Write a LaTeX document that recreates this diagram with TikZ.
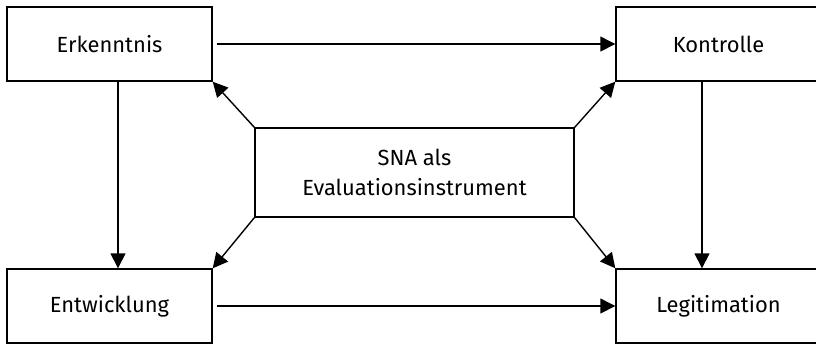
\documentclass[tikz,border=0pt]{standalone}
\usepackage{fontspec}
\setmainfont{Fira Sans}
\usetikzlibrary{arrows.meta}
\begin{document}
\begin{tikzpicture}[x=0.5bp,y=-0.5bp]
	\tikzset{aspect/.style={draw, line width=0.7pt, rectangle, inner sep=0pt,
		minimum width=102.5bp, minimum height=37bp, font=\fontsize{11}{15}\selectfont}}
	\tikzset{centre/.style={aspect, minimum width=159.5bp, minimum height=44.5bp, align=center}}
	\tikzset{link/.style={line width=0.7pt, -{Triangle[length=7.5bp,width=7.5bp]}}}
	\clip (0,0) rectangle (816,345);
	\useasboundingbox (0,0) rectangle (816,345);
	\node[aspect] (erkenntnis) at (109.5, 44) {Erkenntnis};
	\node[aspect] (kontrolle) at (718.5, 44) {Kontrolle};
	\node[aspect] (entwicklung) at (109.5, 306) {Entwicklung};
	\node[aspect] (legitimation) at (718.5, 306) {Legitimation};
	\node[centre] (sna) at (414.5, 172.5) {SNA als\\Evaluationsinstrument};
	\draw[link] ([xshift=2bp]erkenntnis.east) -- (kontrolle.west);
	\draw[link] ([xshift=2bp]entwicklung.east) -- (legitimation.west);
	\draw[link] ([xshift=4.25bp]erkenntnis.south) -- ([xshift=4.25bp]entwicklung.north);
	\draw[link] ([xshift=-8.25bp]kontrolle.south) -- ([xshift=-8.25bp]legitimation.north);
	\draw[link] (sna.north west) -- (erkenntnis.south east);
	\draw[link] (sna.north east) -- (kontrolle.south west);
	\draw[link] (sna.south west) -- (entwicklung.north east);
	\draw[link] (sna.south east) -- (legitimation.north west);
\end{tikzpicture}
\end{document}
